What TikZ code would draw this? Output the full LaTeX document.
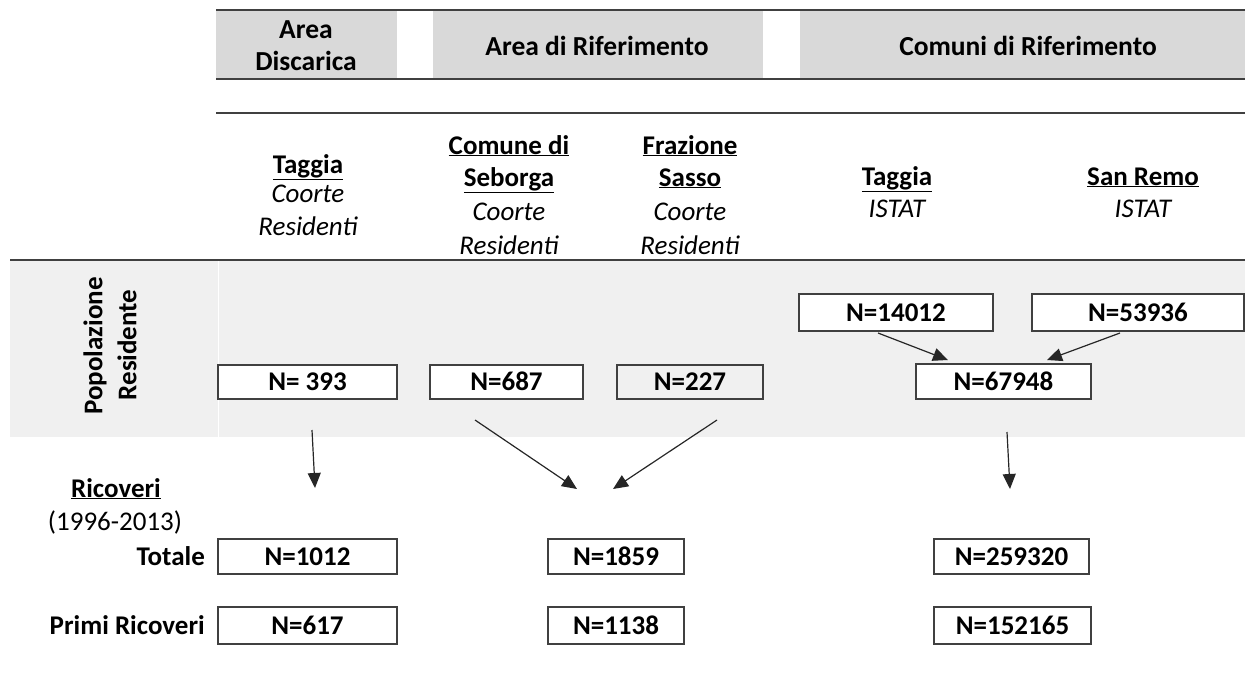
\documentclass[tikz,border=0pt]{standalone}
\usepackage{fontspec}
\setmainfont{Carlito}
\usetikzlibrary{arrows.meta}
\definecolor{hdrgray}{HTML}{D9D9D9}
\definecolor{bandgray}{HTML}{F0F0F0}
\definecolor{linegray}{HTML}{404040}
\tikzset{
  nbox/.style={draw=linegray, line width=1.3pt, fill=white, inner sep=0pt,
    font=\fontsize{27}{30}\selectfont\bfseries, text height=17pt, text depth=0pt},
  hdr/.style={font=\fontsize{27.5}{32}\selectfont\bfseries, inner sep=0pt, anchor=base},
  colb/.style={font=\fontsize{27}{30}\selectfont\bfseries, inner sep=0pt, anchor=base},
  coli/.style={font=\fontsize{27}{30}\selectfont\itshape, inner sep=0pt, anchor=base},
  lbl/.style={font=\fontsize{27}{30}\selectfont\bfseries, inner sep=0pt},
  arr/.style={line width=1.2pt, draw=black!85, -{Triangle[length=15pt,width=13pt]}},
}
\begin{document}
\begin{tikzpicture}[x=1pt,y=-1pt]
\useasboundingbox (0,0) rectangle (1245,673);
% header band
\fill[hdrgray] (216,10) rectangle (397,79);
\fill[hdrgray] (433,10) rectangle (763,79);
\fill[hdrgray] (800,10) rectangle (1245,79);
\draw[linegray, line width=2pt] (216,10) -- (1245,10);
\draw[linegray, line width=2pt] (216,79) -- (1245,79);
\draw[linegray, line width=2pt] (216,113) -- (1245,113);
\node[hdr] (h1a) at (306,38) {Area};
\node[hdr] (h1b) at (306,70) {Discarica};
\node[hdr] (h2) at (597,55) {Area di Riferimento};
\node[hdr] (h3) at (1028,55) {Comuni di Riferimento};
% column headings
\node[colb] (c1a) at (308,173) {\underline{Taggia}};
\node[coli] (c1b) at (308,202) {Coorte};
\node[coli] (c1c) at (308,235) {Residenti};
\node[colb] (c2a) at (509,154) {\underline{Comune di}};
\node[colb] (c2b) at (509,186) {\underline{Seborga}};
\node[coli] (c2c) at (509,220) {Coorte};
\node[coli] (c2d) at (509,254) {Residenti};
\node[colb] (c3a) at (690,154) {\underline{Frazione}};
\node[colb] (c3b) at (690,186) {\underline{Sasso}};
\node[coli] (c3c) at (690,220) {Coorte};
\node[coli] (c3d) at (690,254) {Residenti};
\node[colb] (c4a) at (897,185) {\underline{Taggia}};
\node[coli] (c4b) at (897,217) {ISTAT};
\node[colb] (c5a) at (1143,185) {\underline{San Remo}};
\node[coli] (c5b) at (1143,217) {ISTAT};
% population band
\fill[bandgray] (10,260) rectangle (1245,437);
\draw[white, line width=1pt] (218,261) -- (218,437);
\draw[linegray, line width=1.5pt] (10,260) -- (1245,260);
\node[lbl, rotate=90] (pop1) at (95,346) {Popolazione};
\node[lbl, rotate=90] (pop2) at (127,345) {Residente};
% boxes
\node[nbox, minimum width=179pt, minimum height=34pt] (b393) at (307.5,382) {N= 393};
\node[nbox, minimum width=153pt, minimum height=34pt] (b687) at (506.5,382) {N=687};
\node[nbox, fill=bandgray, minimum width=146pt, minimum height=34pt] (b227) at (690,382) {N=227};
\node[nbox, minimum width=194pt, minimum height=37pt] (b14012) at (896,312.5) {N=14012};
\node[nbox, minimum width=212pt, minimum height=37pt] (b53936) at (1138,312.5) {N=53936};
\node[nbox, minimum width=175pt, minimum height=35pt] (b67948) at (1003.5,381.5) {N=67948};
\node[nbox, minimum width=179pt, minimum height=35pt] (b1012) at (307.5,556.5) {N=1012};
\node[nbox, minimum width=179pt, minimum height=37pt] (b617) at (307.5,625.5) {N=617};
\node[nbox, minimum width=136pt, minimum height=35pt] (b1859) at (616,556.5) {N=1859};
\node[nbox, minimum width=136pt, minimum height=37pt] (b1138) at (616,625.5) {N=1138};
\node[nbox, minimum width=155pt, minimum height=35pt] (b259320) at (1011.5,556.5) {N=259320};
\node[nbox, minimum width=157pt, minimum height=37pt] (b152165) at (1012.5,625.5) {N=152165};
% labels
\node[lbl, anchor=base] (ric) at (116,497) {\underline{Ricoveri}};
\node[font=\fontsize{27}{30}\selectfont, inner sep=0pt, anchor=base] (yrs) at (115,530) {(1996-2013)};
\node[lbl, anchor=base east] (tot) at (205,565) {Totale};
\node[lbl, anchor=base east] (prim) at (205,634) {Primi Ricoveri};
% arrows
\coordinate (a1s) at (878,333);
\coordinate (a1e) at (948,360);
\coordinate (a2s) at (1120,333);
\coordinate (a2e) at (1047,360);
\coordinate (a3s) at (312,430);
\coordinate (a3e) at (315,488);
\coordinate (a4s) at (475,420);
\coordinate (a4e) at (577,489);
\coordinate (a5s) at (717,420);
\coordinate (a5e) at (613,489);
\coordinate (a6s) at (1007,432);
\coordinate (a6e) at (1010,489);
\draw[arr] (a1s) -- (a1e);
\draw[arr] (a2s) -- (a2e);
\draw[arr] (a3s) -- (a3e);
\draw[arr] (a4s) -- (a4e);
\draw[arr] (a5s) -- (a5e);
\draw[arr] (a6s) -- (a6e);
\end{tikzpicture}
\end{document}
